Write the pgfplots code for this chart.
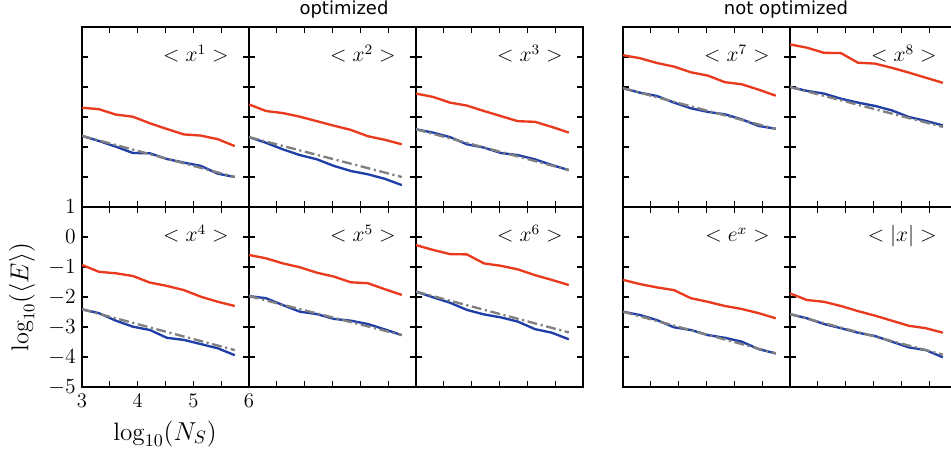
\documentclass[border=0pt]{standalone}
\usepackage{fontspec}
\usepackage{pgfplots}
\usepackage{pgfplotstable}
\pgfplotsset{compat=1.18}
\newfontfamily\dejavu{DejaVu Sans}
\definecolor{cred}{RGB}{234,58,30}
\definecolor{cblue}{RGB}{32,62,168}
\definecolor{cgray}{RGB}{128,128,128}

% x = log10(N_S), r = red, b = blue
\pgfplotstableread{
x r b
3.000 -1.69 -2.63
3.305 -1.74 -2.80
3.610 -1.92 -2.99
3.915 -1.99 -3.20
4.220 -2.21 -3.21
4.525 -2.40 -3.40
4.830 -2.58 -3.52
5.135 -2.62 -3.63
5.440 -2.74 -3.89
5.745 -2.97 -4.00
}\tA
\pgfplotstableread{
x r b
3.000 -1.58 -2.67
3.305 -1.80 -2.86
3.610 -1.87 -3.08
3.915 -1.99 -3.27
4.220 -2.14 -3.41
4.525 -2.29 -3.63
4.830 -2.43 -3.80
5.135 -2.64 -3.91
5.440 -2.76 -4.06
5.745 -2.91 -4.27
}\tB
\pgfplotstableread{
x r b
3.000 -1.22 -2.41
3.305 -1.33 -2.52
3.610 -1.52 -2.67
3.915 -1.62 -2.91
4.220 -1.80 -3.02
4.525 -1.97 -3.20
4.830 -2.14 -3.27
5.135 -2.16 -3.41
5.440 -2.33 -3.60
5.745 -2.52 -3.77
}\tC
\pgfplotstableread{
x r b
3.000 -0.93 -2.41
3.305 -1.16 -2.54
3.610 -1.21 -2.79
3.915 -1.30 -2.99
4.220 -1.52 -3.10
4.525 -1.63 -3.36
4.830 -1.77 -3.43
5.135 -1.99 -3.57
5.440 -2.16 -3.71
5.745 -2.30 -3.94
}\tD
\pgfplotstableread{
x r b
3.000 -0.60 -1.97
3.305 -0.71 -2.04
3.610 -0.88 -2.27
3.915 -1.01 -2.49
4.220 -1.19 -2.57
4.525 -1.32 -2.73
4.830 -1.51 -2.79
5.135 -1.54 -2.90
5.440 -1.74 -3.08
5.745 -1.93 -3.27
}\tE
\pgfplotstableread{
x r b
3.000 -0.27 -1.82
3.305 -0.43 -2.01
3.610 -0.57 -2.19
3.915 -0.58 -2.43
4.220 -0.88 -2.58
4.525 -0.96 -2.68
4.830 -1.08 -2.82
5.135 -1.27 -3.07
5.440 -1.43 -3.19
5.745 -1.60 -3.41
}\tF
\pgfplotstableread{
x r b
3.000 0.06 -1.04
3.305 -0.04 -1.19
3.610 -0.20 -1.30
3.915 -0.32 -1.52
4.220 -0.51 -1.71
4.525 -0.62 -1.83
4.830 -0.84 -1.91
5.135 -0.91 -2.08
5.440 -1.09 -2.30
5.745 -1.29 -2.39
}\tG
\pgfplotstableread{
x r b
3.000 0.42 -1.00
3.305 0.31 -1.13
3.610 0.14 -1.22
3.915 0.13 -1.39
4.220 -0.19 -1.52
4.525 -0.22 -1.63
4.830 -0.36 -1.78
5.135 -0.52 -2.00
5.440 -0.69 -2.13
5.745 -0.86 -2.28
}\tH
\pgfplotstableread{
x r b
3.000 -1.43 -2.49
3.305 -1.57 -2.60
3.610 -1.68 -2.77
3.915 -1.77 -3.01
4.220 -2.04 -3.10
4.525 -2.16 -3.27
4.830 -2.30 -3.36
5.135 -2.40 -3.49
5.440 -2.54 -3.74
5.745 -2.71 -3.88
}\tI
\pgfplotstableread{
x r b
3.000 -1.88 -2.57
3.305 -2.10 -2.71
3.610 -2.16 -2.90
3.915 -2.30 -3.04
4.220 -2.47 -3.19
4.525 -2.62 -3.30
4.830 -2.79 -3.49
5.135 -2.96 -3.68
5.440 -3.04 -3.77
5.745 -3.19 -4.01
}\tJ

\pgfplotsset{
  panel/.style={
    scale only axis, width=92.85pt, height=100.08pt,
    anchor=south west,
    xmin=3, xmax=6, ymin=-5, ymax=1,
    xtick={3,3.5,4,4.5,5,5.5,6}, ytick={-5,-4,-3,-2,-1,0,1},
    xticklabels={}, yticklabels={},
    tick pos=both, tick align=inside,
    major tick length=3.3pt,
    axis line style={line width=0.8pt},
    every tick/.style={black, line width=0.6pt},
    tick label style={font=\fontsize{11.5}{13}\selectfont},
  },
  redl/.style={cred, line width=1.3pt, no marks},
  bluel/.style={cblue, line width=1.3pt, no marks},
  grayl/.style={cgray, line width=1.3pt, no marks, dash pattern=on 5.5pt off 2pt on 1.2pt off 2pt},
}
\newcommand{\plab}[1]{\node[anchor=base east, font=\large] at (rel axis cs:0.916,0.806) {$<#1>$};}

\begin{document}
\begin{tikzpicture}[x=0.556pt, y=-0.556pt]
\useasboundingbox (0,0) rectangle (951,457);
\clip (0,0) rectangle (951,457);

% top row
\begin{axis}[panel, at={(45.592pt,-115.092pt)}]
\addplot[redl] table[x=x, y=r] {\tA};
\addplot[bluel] table[x=x, y=b] {\tA};
\addplot[grayl] coordinates {(3,-2.63) (5.745,-4.00)};
\plab{x^{1}}
\end{axis}
\begin{axis}[panel, at={(138.444pt,-115.092pt)}]
\addplot[redl] table[x=x, y=r] {\tB};
\addplot[bluel] table[x=x, y=b] {\tB};
\addplot[grayl] coordinates {(3,-2.67) (5.745,-4.00)};
\plab{x^{2}}
\end{axis}
\begin{axis}[panel, at={(231.296pt,-115.092pt)}]
\addplot[redl] table[x=x, y=r] {\tC};
\addplot[bluel] table[x=x, y=b] {\tC};
\addplot[grayl] coordinates {(3,-2.41) (5.745,-3.77)};
\plab{x^{3}}
\end{axis}
\begin{axis}[panel, at={(346.388pt,-115.092pt)}]
\addplot[redl] table[x=x, y=r] {\tG};
\addplot[bluel] table[x=x, y=b] {\tG};
\addplot[grayl] coordinates {(3,-1.04) (5.745,-2.40)};
\plab{x^{7}}
\end{axis}
\begin{axis}[panel, at={(439.24pt,-115.092pt)}]
\addplot[redl] table[x=x, y=r] {\tH};
\addplot[bluel] table[x=x, y=b] {\tH};
\addplot[grayl] coordinates {(3,-1.00) (5.745,-2.33)};
\plab{x^{8}}
\end{axis}

% bottom row
\begin{axis}[panel, at={(45.592pt,-215.172pt)},
  xticklabels={3,,4,,5,,6}, yticklabels={$-5$,$-4$,$-3$,$-2$,$-1$,$0$,$1$}]
\addplot[redl] table[x=x, y=r] {\tD};
\addplot[bluel] table[x=x, y=b] {\tD};
\addplot[grayl] coordinates {(3,-2.41) (5.745,-3.77)};
\plab{x^{4}}
\end{axis}
\begin{axis}[panel, at={(138.444pt,-215.172pt)}]
\addplot[redl] table[x=x, y=r] {\tE};
\addplot[bluel] table[x=x, y=b] {\tE};
\addplot[grayl] coordinates {(3,-1.97) (5.745,-3.27)};
\plab{x^{5}}
\end{axis}
\begin{axis}[panel, at={(231.296pt,-215.172pt)}]
\addplot[redl] table[x=x, y=r] {\tF};
\addplot[bluel] table[x=x, y=b] {\tF};
\addplot[grayl] coordinates {(3,-1.82) (5.745,-3.18)};
\plab{x^{6}}
\end{axis}
\begin{axis}[panel, at={(346.388pt,-215.172pt)}]
\addplot[redl] table[x=x, y=r] {\tI};
\addplot[bluel] table[x=x, y=b] {\tI};
\addplot[grayl] coordinates {(3,-2.49) (5.745,-3.88)};
\plab{e^{x}}
\end{axis}
\begin{axis}[panel, at={(439.24pt,-215.172pt)}]
\addplot[redl] table[x=x, y=r] {\tJ};
\addplot[bluel] table[x=x, y=b] {\tJ};
\addplot[grayl] coordinates {(3,-2.57) (5.745,-3.92)};
\plab{|x|}
\end{axis}

% titles and axis labels
\node[anchor=base, font=\dejavu\fontsize{10}{12}\selectfont] at (344,15) {optimized};
\node[anchor=base, font=\dejavu\fontsize{10}{12}\selectfont] at (786,15) {not optimized};
\node[anchor=base, font=\fontsize{14}{16}\selectfont] at (165,440) {$\log_{10}(N_S)$};
\node[rotate=90, font=\fontsize{13.5}{15}\selectfont] at (22,297) {$\log_{10}(\langle E\rangle)$};
\end{tikzpicture}
\end{document}
